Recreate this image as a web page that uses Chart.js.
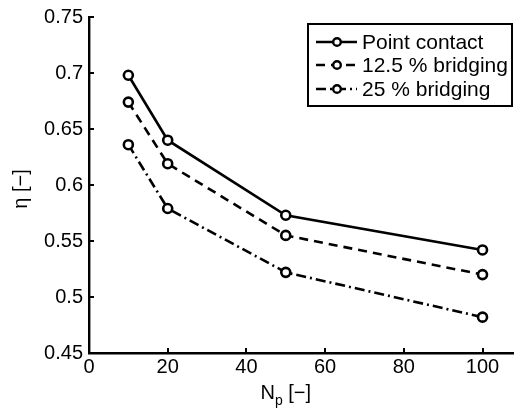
<!DOCTYPE html>
<html>
<head>
<meta charset="utf-8">
<script src="https://cdn.jsdelivr.net/npm/chart.js@4"></script>
<style>
  body { margin: 0; background: #fff; }
  #wrap { width: 514px; height: 409px; }
</style>
</head>
<body>
<div id="wrap"><canvas id="chart" width="514" height="409"></canvas></div>
<script>
// Data
const np = [10, 20, 50, 100];
const pointContact = [0.698, 0.640, 0.573, 0.542];
const bridging125 = [0.674, 0.619, 0.555, 0.520];
const bridging25 = [0.636, 0.579, 0.522, 0.482];
const seriesNames = ['Point contact', '12.5 % bridging', '25 % bridging'];
const xTicks = [0, 20, 40, 60, 80, 100];
const yTicks = [0.45, 0.5, 0.55, 0.6, 0.65, 0.7, 0.75];

const FAMILY = '"Liberation Sans", Arial, sans-serif';
const FONT = '20px ' + FAMILY;
const dashes = [[], [9, 6], [10, 4, 2, 4]];

function toPoints(ys) {
  return np.map((x, i) => ({ x: x, y: ys[i] }));
}

function makeDataset(label, ys, dash) {
  return {
    label: label,
    data: toPoints(ys),
    borderColor: '#000',
    borderWidth: 2.6,
    borderDash: dash,
    pointStyle: 'circle',
    pointRadius: 4.5,
    pointBorderWidth: 2.6,
    pointBackgroundColor: '#fff',
    pointBorderColor: '#000',
    tension: 0,
    showLine: true,
  };
}

// Inward tick marks, axis titles and the boxed legend
const decorations = {
  id: 'decorations',
  afterDraw(chart) {
    const ctx = chart.ctx;
    const xs = chart.scales.x;
    const ys = chart.scales.y;
    const area = chart.chartArea;
    ctx.save();
    ctx.strokeStyle = '#000';
    ctx.lineWidth = 2;
    xTicks.forEach((v) => {
      const px = Math.round(xs.getPixelForValue(v));
      ctx.beginPath();
      ctx.moveTo(px, area.bottom);
      ctx.lineTo(px, area.bottom - 5);
      ctx.stroke();
    });
    yTicks.forEach((v) => {
      const py = Math.round(ys.getPixelForValue(v));
      ctx.beginPath();
      ctx.moveTo(area.left, py);
      ctx.lineTo(area.left + 5, py);
      ctx.stroke();
    });

    // x title: N_p [-]
    ctx.fillStyle = '#000';
    ctx.textBaseline = 'alphabetic';
    ctx.textAlign = 'left';
    const xc = xs.getPixelForValue(50);
    const rest = ' [\u2212]';
    ctx.font = FONT;
    const wN = ctx.measureText('N').width;
    const wr = ctx.measureText(rest).width;
    ctx.font = '14px ' + FAMILY;
    const wp = ctx.measureText('p').width;
    const x0 = xc - (wN + wp + wr) / 2;
    const base = 399;
    ctx.font = FONT;
    ctx.fillText('N', x0, base);
    ctx.font = '14px ' + FAMILY;
    ctx.fillText('p', x0 + wN, base + 6);
    ctx.font = FONT;
    ctx.fillText(rest, x0 + wN + wp, base);

    // y title
    ctx.save();
    ctx.translate(21, ys.getPixelForValue(0.6) + 4);
    ctx.rotate(-Math.PI / 2);
    ctx.textAlign = 'center';
    ctx.textBaseline = 'middle';
    ctx.fillText('\u03b7 [\u2212]', 0, 0);
    ctx.restore();

    // legend
    const lx = 308, ly = 24, lw = 204, lh = 82;
    ctx.fillStyle = '#fff';
    ctx.fillRect(lx, ly, lw, lh);
    ctx.lineWidth = 2;
    ctx.strokeRect(lx, ly, lw, lh);
    const rows = [42, 65, 89];
    chart.data.datasets.forEach((ds, i) => {
      const y = rows[i];
      ctx.lineWidth = 2.6;
      ctx.setLineDash(ds.borderDash);
      ctx.beginPath();
      ctx.moveTo(316, y);
      ctx.lineTo(357, y);
      ctx.stroke();
      ctx.setLineDash([]);
      ctx.lineWidth = 2.4;
      ctx.beginPath();
      ctx.arc(337, y, 3.8, 0, Math.PI * 2);
      ctx.fillStyle = '#fff';
      ctx.fill();
      ctx.stroke();
      ctx.fillStyle = '#000';
      ctx.font = '21px ' + FAMILY;
      ctx.textAlign = 'left';
      ctx.textBaseline = 'middle';
      ctx.fillText(ds.label, 362, y + 1);
    });
    ctx.restore();
  }
};

new Chart(document.getElementById('chart'), {
  type: 'scatter',
  data: {
    datasets: [
      makeDataset(seriesNames[0], pointContact, dashes[0]),
      makeDataset(seriesNames[1], bridging125, dashes[1]),
      makeDataset(seriesNames[2], bridging25, dashes[2]),
    ],
  },
  options: {
    responsive: false,
    animation: false,
    layout: { autoPadding: false, padding: { top: 17, right: 0, left: 0, bottom: 0 } },
    plugins: {
      legend: { display: false },
      tooltip: { enabled: false },
    },
    scales: {
      x: {
        type: 'linear',
        min: 0,
        max: 108,
        afterBuildTicks: (scale) => { scale.ticks = xTicks.map((v) => ({ value: v })); },
        afterFit: (scale) => {
          scale.height = 56;
          scale.paddingRight = 0;
          scale.paddingLeft = 0;
        },
        grid: { display: false, drawTicks: false },
        border: { display: true, color: '#000', width: 2.4 },
        ticks: { color: '#000', font: { family: FAMILY, size: 20 }, padding: 2, maxRotation: 0 },
      },
      y: {
        type: 'linear',
        min: 0.45,
        max: 0.75,
        afterBuildTicks: (scale) => { scale.ticks = yTicks.map((v) => ({ value: v })); },
        afterFit: (scale) => {
          scale.width = 89;
          scale.paddingTop = 0;
          scale.paddingBottom = 0;
        },
        grid: { display: false, drawTicks: false },
        border: { display: true, color: '#000', width: 2.4 },
        ticks: {
          color: '#000',
          font: { family: FAMILY, size: 20 },
          padding: 6,
          callback: (v) => String(+v.toFixed(2)),
        },
      },
    },
  },
  plugins: [decorations],
});
</script>
</body>
</html>
